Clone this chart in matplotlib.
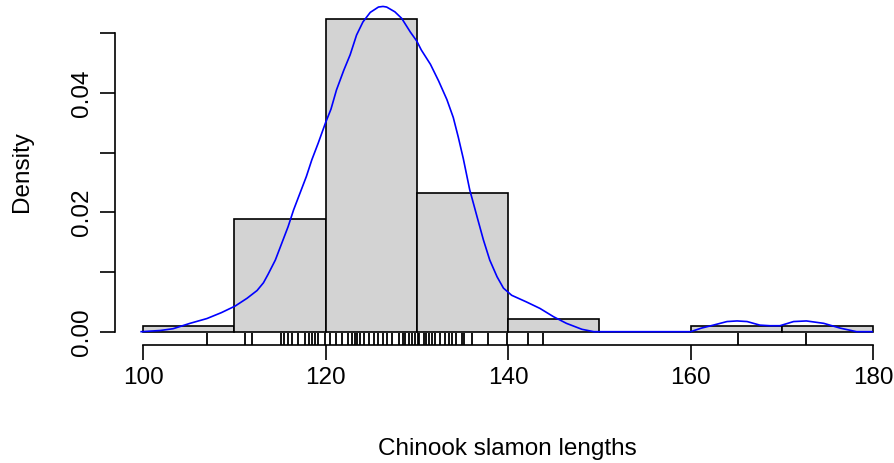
import matplotlib
matplotlib.use("Agg")
import matplotlib.pyplot as plt

plt.rcParams['font.family'] = ['Liberation Sans', 'DejaVu Sans']

# histogram (density scale), bins of width 10
bin_left = [100, 110, 120, 130, 140, 150, 160, 170]
bin_density = [0.0010, 0.0189, 0.0524, 0.0232, 0.0021, 0.0, 0.0010, 0.0010]

# kernel density curve
dens_x = [99.8, 101.9, 103.3, 105.15, 107.0, 108.6, 110.1, 111.4, 112.5, 113.2,
          113.7, 114.5, 115.2, 115.9, 116.5, 117.2, 117.9, 118.5, 119.2, 120.0,
          120.6, 121.2, 122.0, 122.7, 123.4, 124.1, 124.9, 125.8, 126.3, 126.7,
          127.6, 128.35, 129.3, 130.0, 130.5, 131.5, 132.4, 133.3, 134.0, 134.55,
          135.1, 135.8, 136.6, 137.3, 138.0, 138.8, 139.5, 140.4, 142.0, 143.5,
          145.0, 146.4, 148.1, 149.4, 160.0, 161.2, 162.5, 164.0, 165.1, 166.2,
          167.6, 168.7, 169.8, 171.3, 172.7, 174.6, 176.4, 178.2, 179.9]
dens_y = [0.0, 0.0002, 0.0005, 0.0014, 0.0022, 0.0032, 0.0043, 0.0056, 0.0069, 0.0082,
          0.0096, 0.0120, 0.0148, 0.0176, 0.0204, 0.0232, 0.0260, 0.0288, 0.0316, 0.0350,
          0.0373, 0.0405, 0.0438, 0.0464, 0.0497, 0.0519, 0.0535, 0.0544, 0.0545, 0.0544,
          0.0536, 0.0525, 0.0502, 0.0487, 0.0472, 0.0448, 0.0420, 0.0389, 0.0359, 0.0326,
          0.0290, 0.0238, 0.0193, 0.0154, 0.0120, 0.0092, 0.0073, 0.0061, 0.0050, 0.0039,
          0.0025, 0.0014, 0.0004, 0.0, 0.0, 0.0006, 0.0011, 0.0017, 0.0018, 0.0017,
          0.0011, 0.0010, 0.0010, 0.0017, 0.0018, 0.0014, 0.0006, 0.0, 0.0]

# individual lengths shown as rug
rug_vals = [107.05, 111.2, 111.9, 115.1, 115.5, 115.9, 116.3, 117.0, 117.8, 118.2,
            118.5, 118.9, 119.2, 119.95, 120.5, 121.1, 121.8, 122.5, 122.9, 123.2,
            123.5, 123.8, 124.2, 124.8, 125.3, 125.8, 126.3, 126.7, 127.3, 128.0,
            128.5, 128.7, 129.2, 129.5, 129.8, 130.1, 130.3, 130.8, 131.0, 131.3,
            131.7, 132.0, 132.5, 133.1, 133.5, 133.9, 134.3, 135.0, 135.2, 136.1,
            137.8, 139.9, 142.2, 143.8, 165.2, 172.7]

W, H = 895, 463
fig = plt.figure(figsize=(W / 100, H / 100), dpi=100)
ax = fig.add_axes([115 / W, (H - 345) / H, (W - 115) / W, 345 / H])

ax.bar(bin_left, bin_density, width=10, align='edge', color='#D3D3D3',
       edgecolor='black', linewidth=1.2)
ax.plot(dens_x, dens_y, color='#0000FF', linewidth=1.2)
ax.vlines(rug_vals, 0, 0.035, transform=ax.get_xaxis_transform(),
          color='black', linewidth=1.3)

ax.set_xlim(96.93, 182.41)
ax.set_ylim(-0.00223, 0.05558)

for s in ['top', 'right']:
    ax.spines[s].set_visible(False)
ax.spines['left'].set_bounds(0, 0.05)
ax.spines['bottom'].set_bounds(100, 180)
ax.spines['left'].set_linewidth(1.2)
ax.spines['bottom'].set_linewidth(1.2)

ax.set_xticks([100, 120, 140, 160, 180])
ax.set_xticklabels(['100', '120', '140', '160', '180'])
ax.set_yticks([0, 0.01, 0.02, 0.03, 0.04, 0.05])
ax.set_yticklabels(['0.00', '', '0.02', '', '0.04', ''], rotation=90, va='center')
ax.tick_params(axis='both', direction='out', length=11, width=1.2,
               labelsize=17.5, pad=5)

fig.text(507.5 / W, 1 - 449 / H, 'Chinook slamon lengths', ha='center',
         va='center', fontsize=17.5)
fig.text(22 / W, 1 - 172 / H, 'Density', ha='center', va='center',
         rotation=90, fontsize=17.5)

fig.savefig('out.png', dpi=100)
